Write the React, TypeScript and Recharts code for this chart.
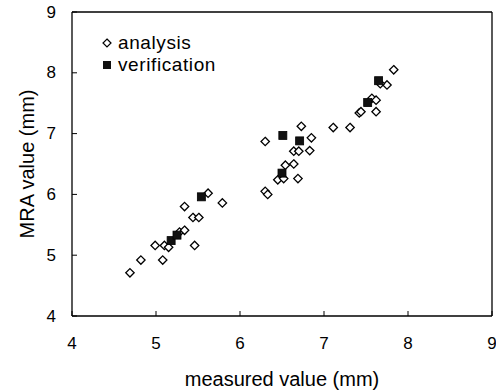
import { ScatterChart, Scatter, XAxis, YAxis, ReferenceLine, Legend } from "recharts";

const FONT = '"Liberation Sans", Arial, sans-serif';

const xTicks = [4, 5, 6, 7, 8, 9];
const yTicks = [4, 5, 6, 7, 8, 9];

// analysis points (measured, MRA)
const analysisMeasured = [
  4.69, 4.82, 4.99, 5.08, 5.1, 5.15, 5.28, 5.34, 5.46, 5.34, 5.44, 5.51, 5.62, 5.79,
  6.3, 6.3, 6.33, 6.45, 6.52, 6.54, 6.64, 6.64, 6.7, 6.83, 6.85, 6.73, 6.69,
  7.11, 7.31, 7.42, 7.44, 7.62, 7.57, 7.62, 7.75, 7.83, 7.67,
];
const analysisMra = [
  4.71, 4.92, 5.16, 4.92, 5.16, 5.13, 5.38, 5.41, 5.16, 5.8, 5.62, 5.62, 6.02, 5.86,
  6.87, 6.05, 6.0, 6.24, 6.26, 6.48, 6.5, 6.71, 6.71, 6.72, 6.93, 7.12, 6.26,
  7.1, 7.1, 7.34, 7.36, 7.36, 7.58, 7.55, 7.8, 8.05, 7.82,
];

// verification points
const verificationMeasured = [5.18, 5.25, 5.54, 6.5, 6.51, 6.71, 7.52, 7.65];
const verificationMra = [5.24, 5.33, 5.96, 6.35, 6.97, 6.88, 7.51, 7.87];

const analysisData = analysisMeasured.map((x, i) => ({ x, y: analysisMra[i] }));
const verificationData = verificationMeasured.map((x, i) => ({ x, y: verificationMra[i] }));

function DiamondShape(props: any) {
  const { cx, cy } = props;
  const r = 4.2;
  return (
    <polygon
      points={`${cx},${cy - r} ${cx + r},${cy} ${cx},${cy + r} ${cx - r},${cy}`}
      fill="#fff"
      stroke="#000"
      strokeWidth={1.3}
    />
  );
}

function SquareShape(props: any) {
  const { cx, cy } = props;
  return <rect x={cx - 4} y={cy - 4} width={8} height={8} fill="#111" stroke="#000" strokeWidth={0.8} />;
}

function XTick({ x, y, payload }: any) {
  return (
    <g>
      <line x1={x} y1={y} x2={x} y2={y - 5} stroke="#000" strokeWidth={1} />
      <text x={x} y={y + 27} textAnchor="middle" dominantBaseline="central" fontSize={17} fontFamily={FONT} fill="#000">
        {payload.value}
      </text>
    </g>
  );
}

function YTick({ x, y, payload }: any) {
  return (
    <g>
      <line x1={x} y1={y} x2={x + 5} y2={y} stroke="#000" strokeWidth={1} />
      <text x={x - 16} y={y} textAnchor="end" dominantBaseline="central" fontSize={17} fontFamily={FONT} fill="#000">
        {payload.value}
      </text>
    </g>
  );
}

function LegendContent() {
  const row = { display: "flex", alignItems: "center", height: 22, fontFamily: FONT, fontSize: 19, letterSpacing: 0.6, color: "#000" };
  return (
    <div>
      <div style={row}>
        <svg width={18} height={12}>
          <polygon points="7,2 11,6 7,10 3,6" fill="#fff" stroke="#000" strokeWidth={1.2} />
        </svg>
        <span>analysis</span>
      </div>
      <div style={row}>
        <svg width={18} height={12}>
          <rect x={3} y={2} width={8} height={8} fill="#111" />
        </svg>
        <span>verification</span>
      </div>
    </div>
  );
}

export default function App() {
  return (
    <div style={{ position: "absolute", left: 0, top: 0, background: "#fff" }}>
      <ScatterChart width={496} height={391} margin={{ top: 12, right: 4, bottom: 0, left: 0 }}>
        <XAxis
          type="number"
          dataKey="x"
          domain={[4, 9]}
          ticks={xTicks}
          height={75}
          tickSize={0}
          tickMargin={0}
          tick={<XTick />}
          axisLine={{ stroke: "#000", strokeWidth: 1.3 }}
          label={{ value: "measured value (mm)", position: "insideBottom", offset: 5, fontSize: 20, fontFamily: FONT, fill: "#000" }}
        />
        <YAxis
          type="number"
          dataKey="y"
          domain={[4, 9]}
          ticks={yTicks}
          width={72}
          tickSize={0}
          tickMargin={0}
          tick={<YTick />}
          axisLine={{ stroke: "#000", strokeWidth: 1.3 }}
          label={{ value: "MRA value (mm)", angle: -90, position: "center", dx: -9, fontSize: 20, fontFamily: FONT, fill: "#000" }}
        />
        <ReferenceLine y={9} stroke="#000" strokeWidth={1.3} />
        <ReferenceLine x={9} stroke="#000" strokeWidth={1.3} />
        <Legend
          layout="vertical"
          align="center"
          verticalAlign="middle"
          content={<LegendContent />}
          wrapperStyle={{ left: 100, top: 32, width: 170 }}
        />
        <Scatter name="analysis" data={analysisData} shape={<DiamondShape />} isAnimationActive={false} />
        <Scatter name="verification" data={verificationData} shape={<SquareShape />} isAnimationActive={false} />
      </ScatterChart>
    </div>
  );
}
